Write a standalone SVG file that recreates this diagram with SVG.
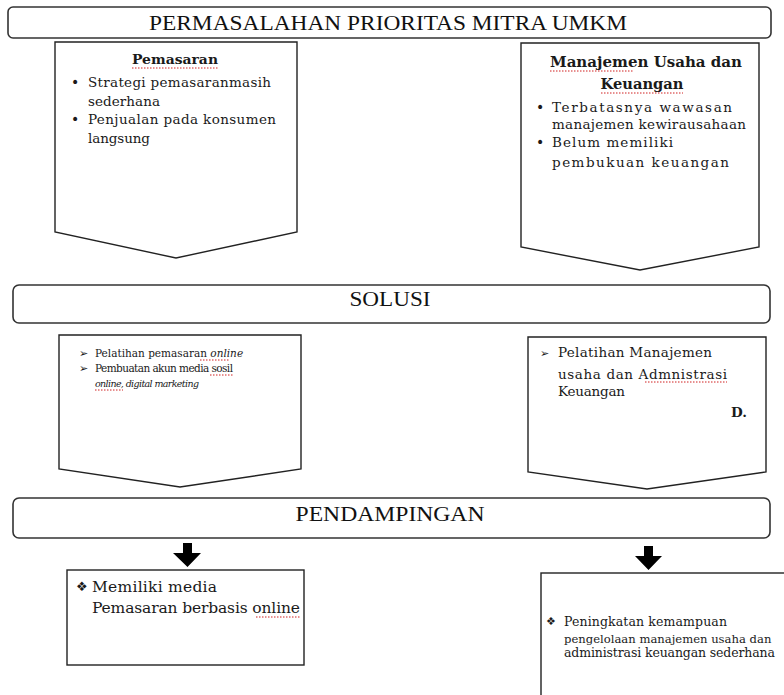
<svg xmlns="http://www.w3.org/2000/svg" width="784" height="695" viewBox="0 0 784 695">
<style>
.bg{fill:#ffffff}
.banner{fill:#ffffff;stroke:#333333;stroke-width:1.6}
.box{fill:#ffffff;stroke:#222222;stroke-width:1.4}
.ban{font-family:"Liberation Serif","Times New Roman",serif;fill:#111111;text-anchor:middle}
.t{font-family:"DejaVu Serif","Liberation Serif",serif;fill:#1a1a1a}
.b{font-weight:bold}
.i{font-style:italic}
.bul{font-family:"DejaVu Sans",sans-serif;fill:#1a1a1a}
.sp{stroke:#d02020;stroke-width:1;stroke-dasharray:1.5 1.5;fill:none}
.arr{fill:#000000}
</style>
<rect class="bg" x="0" y="0" width="784" height="695"/>

<g id="banner-permasalahan">
<rect class="banner" x="8" y="7" width="763" height="31" rx="5"/>
<text class="ban" x="388" y="30" font-size="22" textLength="478" lengthAdjust="spacingAndGlyphs">PERMASALAHAN PRIORITAS  MITRA UMKM</text>
</g>

<g id="box-pemasaran">
<polygon class="box" points="55,42 297,42 297,232 176,258 55,232"/>
<text class="t b" x="175" y="64" font-size="13.5" text-anchor="middle" textLength="86" lengthAdjust="spacingAndGlyphs">Pemasaran</text>
<path class="sp" d="M132,68 L218,68"/>
<text class="bul" x="71" y="87" font-size="14">•</text>
<text class="t" x="88" y="87" font-size="13.5" textLength="183" lengthAdjust="spacing">Strategi pemasaranmasih</text>
<text class="t" x="88" y="106" font-size="13.5" textLength="72" lengthAdjust="spacing">sederhana</text>
<text class="bul" x="71" y="124" font-size="14">•</text>
<text class="t" x="88" y="124" font-size="13.5" textLength="188" lengthAdjust="spacing">Penjualan pada konsumen</text>
<text class="t" x="88" y="143" font-size="13.5" textLength="62" lengthAdjust="spacing">langsung</text>
</g>

<g id="box-manajemen">
<polygon class="box" points="521,43 759,43 759,247 640,270 521,247"/>
<text class="t b" x="646" y="67" font-size="14" textLength="192" lengthAdjust="spacingAndGlyphs" text-anchor="middle">Manajemen Usaha dan</text>
<path class="sp" d="M550,71 L633,71"/>
<text class="t b" x="642" y="89" font-size="14" text-anchor="middle" textLength="83" lengthAdjust="spacingAndGlyphs">Keuangan</text>
<path class="sp" d="M601,93 L683,93"/>
<text class="bul" x="536" y="112" font-size="14">•</text>
<text class="t" x="552" y="112" font-size="13.5" textLength="180" lengthAdjust="spacing">Terbatasnya  wawasan</text>
<text class="t" x="552" y="129" font-size="13.5" textLength="194" lengthAdjust="spacing">manajemen kewirausahaan</text>
<text class="bul" x="536" y="147" font-size="14">•</text>
<text class="t" x="552" y="147" font-size="13.5" textLength="121" lengthAdjust="spacing">Belum memiliki</text>
<text class="t" x="552" y="167" font-size="13.5" textLength="177" lengthAdjust="spacing">pembukuan  keuangan</text>
</g>

<g id="banner-solusi">
<rect class="banner" x="13" y="285" width="757" height="38" rx="6"/>
<text class="ban" x="390" y="306" font-size="20" textLength="81" lengthAdjust="spacingAndGlyphs">SOLUSI</text>
</g>

<g id="box-solusi-pemasaran">
<polygon class="box" points="59,335 301,335 301,469 180,487 59,469"/>
<text class="bul" x="79" y="357" font-size="11">➢</text>
<text class="t" x="95" y="357" font-size="10.5">Pelatihan pemasaran <tspan class="i">online</tspan></text>
<path class="sp" d="M200,360 L230,360"/>
<text class="bul" x="79" y="372" font-size="11">➢</text>
<text class="t" x="95" y="372" font-size="10.5" textLength="138" lengthAdjust="spacing">Pembuatan akun media sosil</text>
<path class="sp" d="M210,375 L233,375"/>
<text class="t i" x="95" y="387" font-size="9.5" textLength="104" lengthAdjust="spacing">online, digital marketing</text>
<path class="sp" d="M95,390 L123,390"/>
</g>

<g id="box-solusi-manajemen">
<polygon class="box" points="528,337 766,337 766,472 647,489 528,472"/>
<text class="bul" x="540" y="357" font-size="11">➢</text>
<text class="t" x="558" y="357" font-size="13.5" textLength="154" lengthAdjust="spacing">Pelatihan Manajemen</text>
<text class="t" x="558" y="379" font-size="13.5" textLength="169" lengthAdjust="spacing">usaha dan Admnistrasi</text>
<path class="sp" d="M645,382 L727,382"/>
<text class="t" x="558" y="396" font-size="13.5" textLength="67" lengthAdjust="spacing">Keuangan</text>
<text class="t b" x="731" y="417" font-size="13.5">D.</text>
</g>

<g id="banner-pendampingan">
<rect class="banner" x="13" y="498" width="757" height="40" rx="6"/>
<text class="ban" x="390" y="521" font-size="21" textLength="189" lengthAdjust="spacingAndGlyphs">PENDAMPINGAN</text>
</g>

<g id="connectors">
<polygon class="arr" points="183,543 192,543 192,553 201,553 187.5,567 173,553 183,553"/>
<polygon class="arr" points="644,546 653,546 653,556 662,556 648.5,570 635,556 644,556"/>
</g>

<g id="box-hasil-pemasaran">
<rect class="box" x="67" y="570" width="237" height="95"/>
<text class="bul" x="76" y="591" font-size="13">❖</text>
<text class="t" x="92" y="592" font-size="15.5" textLength="125" lengthAdjust="spacing">Memiliki media</text>
<text class="t" x="92" y="613" font-size="15.5" textLength="208" lengthAdjust="spacing">Pemasaran berbasis online</text>
<path class="sp" d="M256,617 L300,617"/>
</g>

<g id="box-hasil-manajemen">
<rect class="box" x="541" y="573" width="260" height="140"/>
<text class="bul" x="546" y="625" font-size="11">❖</text>
<text class="t" x="564" y="626" font-size="12.5" textLength="163" lengthAdjust="spacing">Peningkatan kemampuan</text>
<text class="t" x="564" y="643" font-size="11.6">pengelolaan manajemen usaha dan</text>
<text class="t" x="564" y="657" font-size="12.5" textLength="211" lengthAdjust="spacing">administrasi keuangan sederhana</text>
</g>
</svg>
